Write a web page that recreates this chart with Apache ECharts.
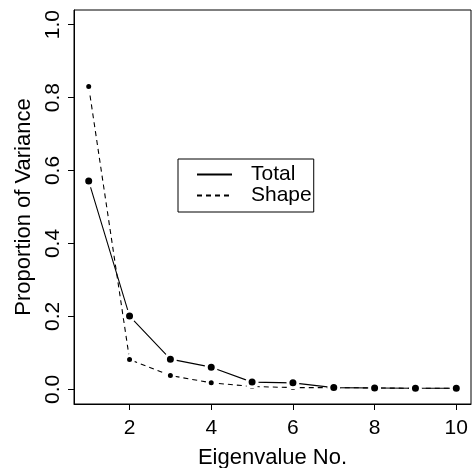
<!DOCTYPE html>
<html>
<head>
<meta charset="utf-8">
<script src="https://cdn.jsdelivr.net/npm/echarts@6/dist/echarts.min.js"></script>
<style>
	html, body { margin: 0; padding: 0; background: #fff; }
	#main { width: 472px; height: 468px; }
</style>
</head>
<body>
<div id="main"></div>
<script>
// eigenvalue index and proportion of variance per series
var eigenNo = [1, 2, 3, 4, 5, 6, 7, 8, 9, 10];
var totalProp = [0.571, 0.201, 0.083, 0.061, 0.020, 0.018, 0.005, 0.004, 0.003, 0.003];
var shapeProp = [0.830, 0.082, 0.038, 0.018, 0.008, 0.005, 0.005, 0.004, 0.003, 0.003];
var xTicks = [2, 4, 6, 8, 10];
var yTicks = [0, 0.2, 0.4, 0.6, 0.8, 1.0];

var font = "'Liberation Sans', Arial, sans-serif";

function pairs(xs, ys) {
	var out = [];
	for (var i = 0; i < xs.length; i++) {
		out.push([xs[i], ys[i]]);
	}
	return out;
}

var chart = echarts.init(document.getElementById("main"));
chart.setOption({
	animation: false,
	backgroundColor: '#fff',
	textStyle: { fontFamily: font },
	grid: {
		left: 74,
		top: 10,
		right: 1,
		bottom: 64,
		show: true,
		borderColor: '#000',
		borderWidth: 1,
		containLabel: false,
		outerBoundsMode: 'none'
	},
	legend: {
		orient: 'vertical',
		left: 178,
		top: 159,
		padding: [5, 2, 6, 18],
		itemWidth: 35,
		itemHeight: 14,
		itemGap: 0,
		borderColor: '#000',
		borderWidth: 1,
		itemStyle: { opacity: 0 },
		textStyle: { fontFamily: font, fontSize: 21, color: '#000', lineHeight: 19, padding: [0, 0, 0, 14] },
		data: ['Total', 'Shape']
	},
	xAxis: {
		type: 'value',
		min: 0.64,
		max: 10.36,
		name: 'Eigenvalue No.',
		nameLocation: 'middle',
		nameGap: 43,
		nameTextStyle: { fontFamily: font, fontSize: 22, color: '#000' },
		axisLine: { show: true, onZero: false, lineStyle: { color: '#000', width: 1 } },
		splitLine: { show: false },
		axisTick: { show: true, length: 6, lineStyle: { color: '#000', width: 1 }, customValues: xTicks },
		axisLabel: { fontFamily: font, fontSize: 21, color: '#000', margin: 14, customValues: xTicks }
	},
	yAxis: {
		type: 'value',
		min: -0.04,
		max: 1.04,
		name: 'Proportion of Variance',
		nameLocation: 'middle',
		nameGap: 32,
		nameTextStyle: { fontFamily: font, fontSize: 22, color: '#000' },
		axisLine: { show: true, onZero: false, lineStyle: { color: '#000', width: 1 } },
		splitLine: { show: false },
		axisTick: { show: true, length: 6, lineStyle: { color: '#000', width: 1 }, customValues: yTicks },
		axisLabel: {
			fontFamily: font,
			fontSize: 21,
			color: '#000',
			margin: 10,
			rotate: 90,
			customValues: yTicks,
			formatter: function(v) {
				return v.toFixed(1);
			}
		}
	},
	series: [{
		name: 'Total',
		type: 'line',
		data: pairs(eigenNo, totalProp),
		symbol: 'circle',
		symbolSize: 10,
		lineStyle: { color: '#000', width: 1.1, type: 'solid' },
		itemStyle: { color: '#000', borderColor: '#fff', borderWidth: 3 },
		z: 3
	}, {
		name: 'Shape',
		type: 'line',
		data: pairs(eigenNo, shapeProp),
		symbol: 'circle',
		symbolSize: 8,
		lineStyle: { color: '#000', width: 1.1, type: [5, 4] },
		itemStyle: { color: '#000', borderColor: '#fff', borderWidth: 3 },
		z: 2
	}]
});
</script>
</body>
</html>
